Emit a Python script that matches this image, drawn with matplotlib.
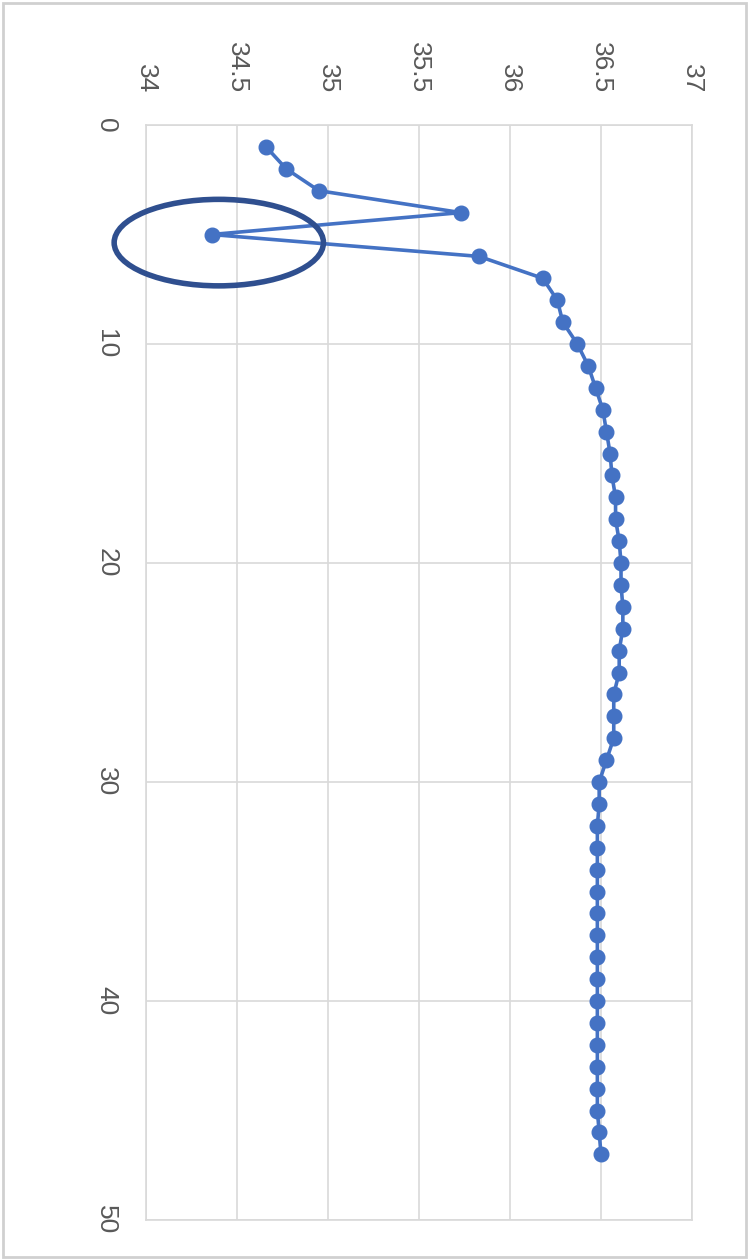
import matplotlib.pyplot as plt
from matplotlib.patches import Ellipse, Rectangle

# depth (index) and value
depth = list(range(1, 48))
value = [34.66, 34.77, 34.95, 35.73, 34.36, 35.83, 36.18, 36.26, 36.29, 36.37,
         36.43, 36.47, 36.51, 36.53, 36.55, 36.56, 36.58, 36.58, 36.60, 36.61,
         36.61, 36.62, 36.62, 36.60, 36.60, 36.57, 36.57, 36.57, 36.53, 36.49,
         36.49, 36.48, 36.48, 36.48, 36.48, 36.48, 36.48, 36.48, 36.48, 36.48,
         36.48, 36.48, 36.48, 36.48, 36.48, 36.49, 36.50]

value_ticks = [34, 34.5, 35, 35.5, 36, 36.5, 37]
value_labels = ['34', '34.5', '35', '35.5', '36', '36.5', '37']
depth_ticks = [0, 10, 20, 30, 40, 50]

outlier = 5  # depth of the circled point

plt.rcParams['font.family'] = ['Liberation Sans', 'DejaVu Sans']

fig = plt.figure(figsize=(7.51, 12.6), dpi=100)
ax = fig.add_axes([146 / 751, 1 - 1220 / 1260, 546 / 751, 1095 / 1260])

ax.plot(value, depth, color='#4472C4', lw=2.6, marker='o', ms=10.5,
        markeredgecolor='#4472C4', zorder=3)

ax.set_xlim(34, 37)
ax.set_ylim(50, 0)
ax.set_xticks(value_ticks)
ax.set_xticklabels(value_labels)
ax.set_yticks(depth_ticks)
ax.xaxis.tick_top()
ax.grid(True, color='#D9D9D9', lw=1.2)
ax.set_axisbelow(True)
for s in ax.spines.values():
    s.set_color('#D9D9D9')
    s.set_linewidth(1.2)

ax.tick_params(axis='x', length=0, pad=23, labelsize=19, labelcolor='#595959',
               labelrotation=-90)
ax.tick_params(axis='y', length=0, pad=20, labelsize=19, labelcolor='#595959',
               labelrotation=-90)
for lab in ax.get_yticklabels():
    lab.set_verticalalignment('center')

# annotation circle around the outlier
i = depth.index(outlier)
ell = Ellipse((value[i] + 0.04, depth[i] + 0.37), width=1.15, height=3.95,
              fill=False, edgecolor='#2F4F8F', lw=4, zorder=4, clip_on=False)
ax.add_patch(ell)

# outer frame of the screenshot
fig.patches.append(Rectangle((3 / 751, 3 / 1260), 743 / 751, 1254 / 1260,
                             transform=fig.transFigure, fill=False,
                             edgecolor='#D0D0D0', lw=2))

fig.savefig('out.png', dpi=100)
